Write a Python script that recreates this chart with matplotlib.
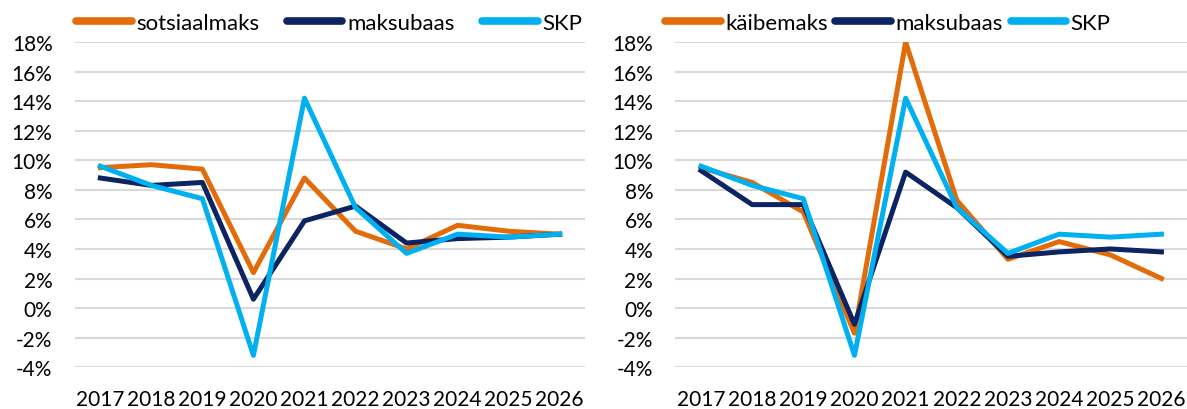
import numpy as np
import matplotlib.pyplot as plt

plt.rcParams['font.family'] = ['Lato', 'DejaVu Sans']

years = ['2017', '2018', '2019', '2020', '2021', '2022', '2023', '2024', '2025', '2026']

# vasak paneel
sotsiaalmaks = [9.5, 9.7, 9.4, 2.4, 8.8, 5.2, 4.0, 5.6, 5.2, 5.0]
maksubaas_sm = [8.8, 8.3, 8.5, 0.6, 5.9, 6.9, 4.4, 4.7, 4.8, 5.0]
skp = [9.6, 8.3, 7.4, -3.2, 14.2, 6.8, 3.7, 5.0, 4.8, 5.0]

# parem paneel
kaibemaks = [9.5, 8.5, 6.5, -1.7, 18.0, 7.3, 3.3, 4.5, 3.6, 2.0]
maksubaas_km = [9.3, 7.0, 7.0, -1.1, 9.2, 6.8, 3.5, 3.8, 4.0, 3.8]

yticks = [-4, -2, 0, 2, 4, 6, 8, 10, 12, 14, 16, 18]

c_orange = '#E36C0A'
c_navy = '#0C2461'
c_cyan = '#00B0F0'

fig = plt.figure(figsize=(11.87, 4.10), dpi=100)
ax1 = fig.add_axes([0.063, 0.102, 0.430, 0.793])
ax2 = fig.add_axes([0.569, 0.102, 0.431, 0.793])

panels = [
    (ax1, sotsiaalmaks, 'sotsiaalmaks', maksubaas_sm, 76, 1.25),
    (ax2, kaibemaks, 'käibemaks', maksubaas_km, 665, 0.35),
]

x = np.arange(len(years))
for ax, tax, tax_name, base, leg_x, colsp in panels:
    ax.plot(x, tax, color=c_orange, lw=3.6, label=tax_name, solid_joinstyle='round')
    ax.plot(x, base, color=c_navy, lw=3.6, label='maksubaas', solid_joinstyle='round')
    ax.plot(x, skp, color=c_cyan, lw=3.6, label='SKP', solid_joinstyle='round')
    ax.set_xlim(-0.5, len(years) - 0.5)
    ax.set_ylim(-4, 18)
    ax.set_yticks(yticks)
    ax.set_yticklabels([f'{v}%' for v in yticks])
    ax.set_xticks(x)
    ax.set_xticklabels(years)
    ax.grid(axis='y', color='#D9D9D9', lw=1.5)
    ax.set_axisbelow(True)
    for s in ax.spines.values():
        s.set_visible(False)
    ax.tick_params(length=0, labelsize=15, colors='black')
    ax.tick_params(axis='x', pad=16)
    ax.tick_params(axis='y', pad=16)
    leg = ax.legend(loc='center left', bbox_to_anchor=(leg_x / 1187, 1 - 24 / 410),
                    bbox_transform=fig.transFigure, ncol=3, frameon=False,
                    fontsize=16, handlelength=2.5, handletextpad=0.2,
                    columnspacing=colsp, borderpad=0, borderaxespad=0)
    for h in leg.get_lines():
        h.set_linewidth(5.5)
        h.set_solid_capstyle('round')

plt.savefig('out.png', dpi=100)
